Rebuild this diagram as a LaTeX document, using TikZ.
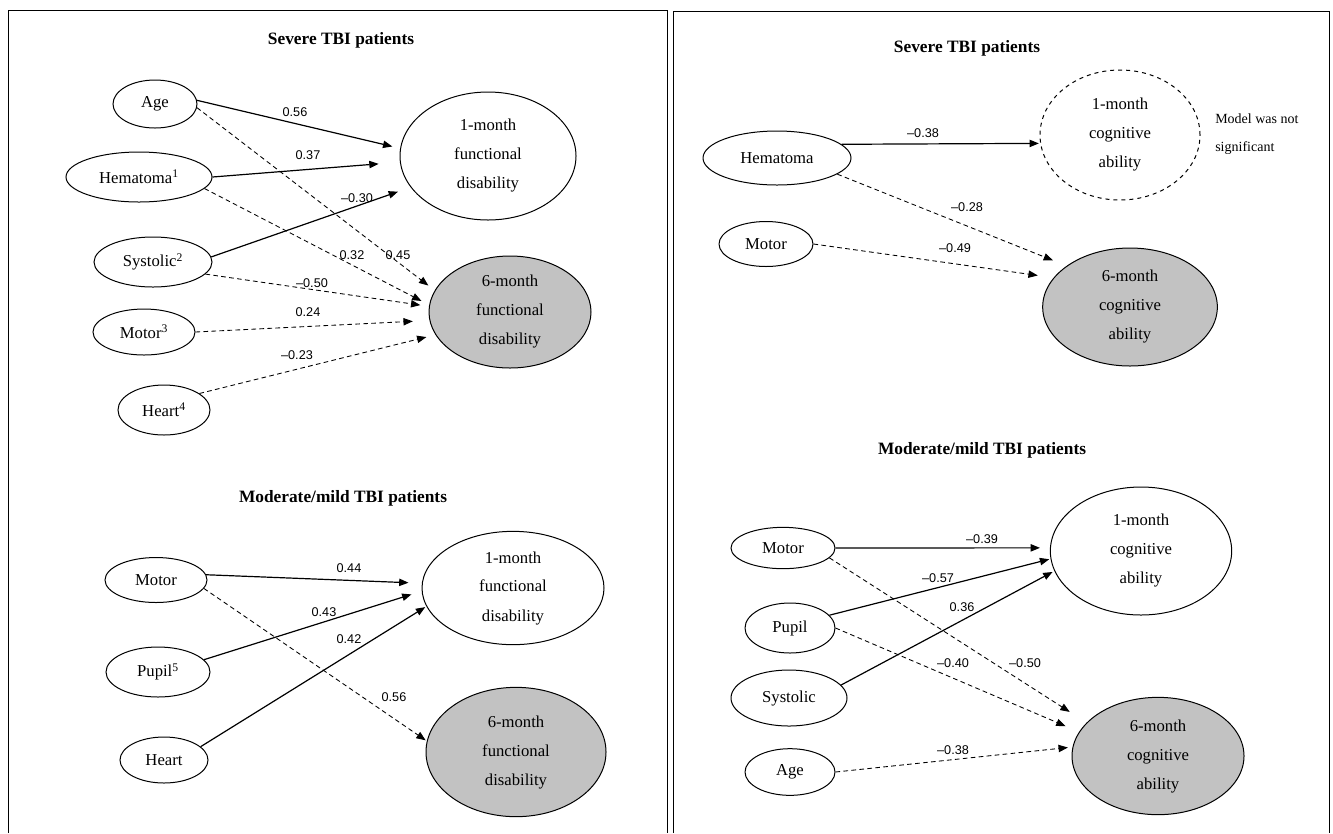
\documentclass[tikz,border=0pt]{standalone}
\usepackage{fontspec}
\setmainfont{Liberation Serif}
\newfontfamily\numfont{Liberation Sans}
\usetikzlibrary{shapes.geometric,arrows.meta}
\begin{document}
\begin{tikzpicture}[x=0.75pt,y=0.75pt,yscale=-1,xscale=1,
  var/.style={ellipse, draw, line width=0.75pt, inner sep=1pt, font=\fontsize{12.5}{15}\selectfont},
  outcome/.style={ellipse, draw, line width=0.75pt, inner sep=1pt, align=center, font=\fontsize{12.5}{21.75}\selectfont},
  late/.style={outcome, fill=black!24},
  coef/.style={inner sep=0.75pt, font=\numfont\fontsize{9.5}{11}\selectfont},
  ttl/.style={inner sep=0.75pt, font=\fontsize{13}{15}\selectfont\bfseries},
  arr/.style={line width=0.9pt, -{Triangle[length=7pt,width=5.5pt]}},
  darr/.style={line width=0.65pt, dash pattern=on 3.5pt off 2.5pt, -{Triangle[length=7pt,width=5.5pt]}}]
\useasboundingbox (0,0) rectangle (1333,833);
\draw [line width=0.6pt] (8,833) -- (8,10) -- (667,10) -- (667,833) ;
\draw [line width=0.6pt] (673,833) -- (673,11) -- (1329,11) -- (1329,833) ;

\draw (341,40) node [ttl] (t1) {Severe TBI patients};
\draw (155,104) node [var, minimum width=63pt, minimum height=36pt] (age1) {Age};
\draw (139,177) node [var, minimum width=109.5pt, minimum height=37.5pt] (hema1) {Hematoma\textsuperscript{1}};
\draw (153,262) node [var, minimum width=88.5pt, minimum height=37.5pt] (sys1) {Systolic\textsuperscript{2}};
\draw (144,332) node [var, minimum width=76.5pt, minimum height=34.5pt] (mot1) {Motor\textsuperscript{3}};
\draw (164,410) node [var, minimum width=69pt, minimum height=37.5pt] (hrt1) {Heart\textsuperscript{4}};
\draw (488,156) node [outcome, minimum width=132pt, minimum height=96pt] (fm1) {1-month\\functional\\disability};
\draw (510,312) node [late, minimum width=121.5pt, minimum height=84pt] (fm6) {6-month\\functional\\disability};
\draw [arr, shorten >=6pt] (age1.5) -- (fm1.175) ;
\draw [arr, shorten >=16pt] (hema1.east) -- (fm1.184) ;
\draw [arr, shorten >=10pt] (sys1.5) -- (fm1.202) ;
\draw [darr, shorten >=6pt] (age1.-5) -- (fm6.164) ;
\draw [darr, shorten >=6.5pt] (hema1.-10) -- (fm6.175) ;
\draw [darr, shorten >=6.5pt] (sys1.-13) -- (fm6.176) ;
\draw [darr, shorten >=12.5pt] (mot1.east) -- (fm6.186) ;
\draw [darr, shorten >=7pt] (hrt1.25) -- (fm6.197) ;
\draw (295,112) node [coef] (c1) {0.56};
\draw (308,155) node [coef] (c2) {0.37};
\draw (357,198) node [coef] (c3) {\textendash0.30};
\draw (352,255) node [coef] (c4) {0.32};
\draw (398,255) node [coef] (c5) {0.45};
\draw (312,283) node [coef] (c6) {\textendash0.50};
\draw (308,312) node [coef] (c7) {0.24};
\draw (297,355) node [coef] (c8) {\textendash0.23};

\draw (343,498) node [ttl] (t2) {Moderate/mild TBI patients};
\draw (156,580) node [var, minimum width=76.5pt, minimum height=33.75pt] (mot2) {Motor};
\draw (158,672) node [var, minimum width=78pt, minimum height=37.5pt] (pup2) {Pupil\textsuperscript{5}};
\draw (164,760) node [var, minimum width=66pt, minimum height=34.5pt] (hrt2) {Heart};
\draw (513,588) node [outcome, minimum width=136.5pt, minimum height=85pt] (fm1b) {1-month\\functional\\disability};
\draw (516,752) node [late, minimum width=135pt, minimum height=97pt] (fm6b) {6-month\\functional\\disability};
\draw [arr, shorten >=10pt] (mot2.6) -- (fm1b.177) ;
\draw [arr, shorten >=8pt] (pup2.15) -- (fm1b.182) ;
\draw [arr, shorten >=1pt] (hrt2.20) -- (fm1b.192) ;
\draw [darr, shorten >=1pt] (mot2.-10) -- (fm6b.173) ;
\draw (349,568) node [coef] (c9) {0.44};
\draw (324,612) node [coef] (c10) {0.43};
\draw (349,639) node [coef] (c11) {0.42};
\draw (394,697) node [coef] (c12) {0.56};

\draw (967,48) node [ttl] (t3) {Severe TBI patients};
\draw (777,158) node [var, minimum width=111pt, minimum height=40.5pt] (hema3) {Hematoma};
\draw (766,244) node [var, minimum width=70.5pt, minimum height=33.75pt] (mot3) {Motor};
\draw (1120,135) node [outcome, dashed, minimum width=120pt, minimum height=97.5pt] (cm1) {1-month\\cognitive\\ability};
\draw (1130,307) node [late, minimum width=131pt, minimum height=88.5pt] (cm6) {6-month\\cognitive\\ability};
\draw (1215,134) node [anchor=west, align=left, inner sep=0pt, font=\fontsize{10.5}{21}\selectfont] (note) {Model was not\\significant};
\draw [arr, shorten >=1pt] (hema3.12) -- (cm1.186) ;
\draw [darr, shorten >=11pt] (hema3.-15) -- (cm6.147) ;
\draw [darr, shorten >=12pt] (mot3.east) -- (cm6.159) ;
\draw (923,133) node [coef] (c13) {\textendash0.38};
\draw (967,207) node [coef] (c14) {\textendash0.28};
\draw (955,248) node [coef] (c15) {\textendash0.49};

\draw (982,450) node [ttl] (t4) {Moderate/mild TBI patients};
\draw (783,548) node [var, minimum width=78pt, minimum height=31pt] (mot4) {Motor};
\draw (790,628) node [var, minimum width=67.5pt, minimum height=37.5pt] (pup4) {Pupil};
\draw (789,698) node [var, minimum width=87pt, minimum height=42pt] (sys4) {Systolic};
\draw (790,772) node [var, minimum width=67.5pt, minimum height=35pt] (age4) {Age};
\draw (1141,551) node [outcome, minimum width=136pt, minimum height=96pt] (cm1b) {1-month\\cognitive\\ability};
\draw (1158,756) node [late, minimum width=129pt, minimum height=88pt] (cm6b) {6-month\\cognitive\\ability};
\draw [arr, shorten >=7.5pt] (mot4.east) -- (cm1b.178) ;
\draw [arr, shorten >=1pt] (pup4.18) -- (cm1b.185) ;
\draw [arr, shorten >=1.5pt] (sys4.14) -- (cm1b.193) ;
\draw [darr, shorten >=15pt] (mot4.-12) -- (cm6b.155) ;
\draw [darr, shorten >=11pt] (pup4.east) -- (cm6b.163) ;
\draw [darr, shorten >=3.5pt] (age4.east) -- (cm6b.174) ;
\draw (982,539) node [coef] (c16) {\textendash0.39};
\draw (938,578) node [coef] (c17) {\textendash0.57};
\draw (962,607) node [coef] (c18) {0.36};
\draw (1025,663) node [coef] (c19) {\textendash0.50};
\draw (953,663) node [coef] (c20) {\textendash0.40};
\draw (953,750) node [coef] (c21) {\textendash0.38};
\end{tikzpicture}
\end{document}
